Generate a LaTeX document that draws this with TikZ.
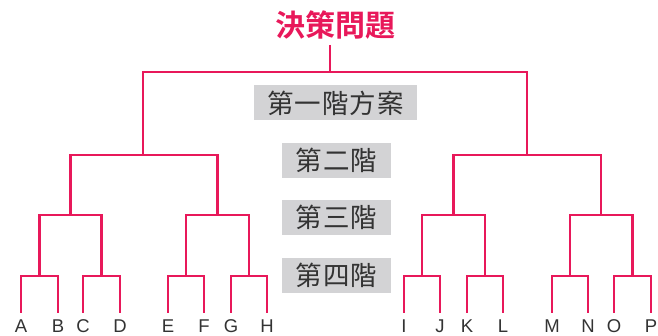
\documentclass[tikz,border=0pt]{standalone}
\usepackage{fontspec}
\setmainfont{Liberation Sans}
\newfontfamily\cjk{Noto Sans CJK TC}[LetterSpace=4]
\newfontfamily\cjktitle{Noto Sans CJK TC Bold}
\definecolor{treered}{HTML}{E8185A}
\definecolor{stagegray}{HTML}{D3D3D5}
\definecolor{textgray}{HTML}{333333}

\begin{document}
\begin{tikzpicture}[x=1pt, y=-1pt,
  branch/.style={treered, line width=2.7pt},
  leaf/.style={anchor=base, inner sep=0pt, text=textgray, font=\fontsize{18.5}{18.5}\selectfont},
  stage/.style={fill=stagegray, text=textgray, inner sep=0pt, minimum height=35pt,
    font=\cjk\fontsize{26.5}{26.5}\selectfont}]
  \useasboundingbox (0,0) rectangle (658,336);

  % title and stage labels
  \node[text=treered, inner sep=0pt, font=\cjktitle\fontsize{30}{30}\selectfont] (title) at (335,25) {決策問題};
  \node[stage, minimum width=163pt] (s1) at (335.5,103) {第一階方案};
  \node[stage, minimum width=109pt] (s2) at (336.5,160.5) {第二階};
  \node[stage, minimum width=109pt] (s3) at (336.5,217.5) {第三階};
  \node[stage, minimum width=109pt] (s4) at (336.5,275.5) {第四階};

  % leaves
  \foreach \n/\x in {A/21,B/58,C/83,D/120,E/168,F/204,G/231,H/267,
                     I/404,J/440,K/467,L/503,M/552,N/588,O/614,P/651} {
    \node[leaf] (\n) at (\x,332.5) {\n};
    \coordinate (l\n) at (\x,313);
  }

  % fourth level
  \foreach \a/\b/\x in {A/B/39.5,C/D/101.5,E/F/186,G/H/249,
                        I/J/422,K/L/485,M/N/570,O/P/632.5} {
    \coordinate (p\a) at (\x,276);
    \draw[branch] (l\a) |- (p\a) -| (l\b);
  }

  % third level
  \foreach \a/\b/\x in {A/C/70.5,E/G/217.5,I/K/453.5,M/O/601} {
    \coordinate (q\a) at (\x,215);
    \draw[branch] (p\a) |- (q\a) -| (p\b);
  }

  % second level
  \coordinate (rA) at (143,155);
  \coordinate (rI) at (527,155);
  \draw[branch] (qA) |- (rA) -| (qE);
  \draw[branch] (qI) |- (rI) -| (qM);

  % first level
  \coordinate (root) at (330,72);
  \coordinate (top) at (330,45);
  \draw[branch] (rA) |- (root) -| (rI);
  \draw[branch] (top) -- (root);
\end{tikzpicture}
\end{document}
